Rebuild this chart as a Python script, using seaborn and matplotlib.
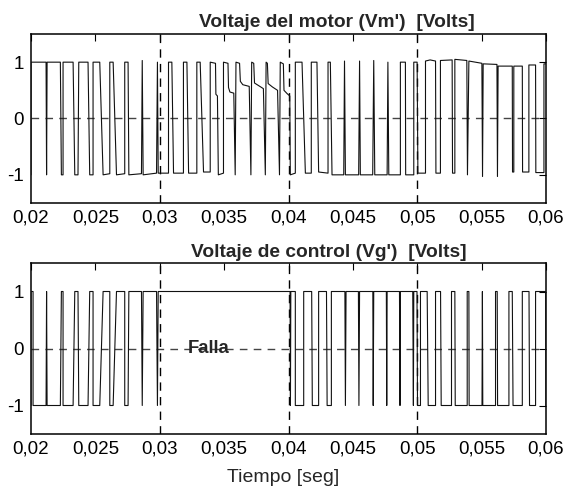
import matplotlib
matplotlib.use("Agg")
import matplotlib.pyplot as plt
import pandas as pd
import seaborn as sns

sns.set_theme(style="white")
plt.rcParams['font.family'] = ['Liberation Sans', 'DejaVu Sans']

# Motor voltage Vm' : waveform vertices, time in ms and level in per-unit volts
vm_t_ms = [20.00, 20.00, 21.17, 21.21, 21.25, 22.28, 22.36, 22.49, 22.49, 23.27,
           23.40, 23.65, 23.71, 24.43, 24.56, 24.82, 24.82, 25.34, 25.60, 26.12,
           26.12, 26.38, 26.64, 27.28, 27.28, 27.54, 27.60, 28.58, 28.64, 28.71,
           29.75, 29.82, 29.88, 30.68, 30.68, 30.94, 31.07, 31.84, 31.84, 32.11,
           32.24, 32.88, 32.88, 33.14, 33.40, 33.92, 33.92, 34.33, 34.36, 34.48,
           34.55, 34.95, 34.95, 35.30, 35.34, 35.45, 35.75, 35.86, 35.92, 36.20,
           36.26, 36.45, 36.95, 37.08, 37.14, 37.30, 37.36, 37.70, 38.05, 38.20,
           38.26, 38.36, 38.42, 38.75, 39.15, 39.30, 39.36, 39.60, 39.65, 39.90,
           40.10, 40.14, 40.53, 40.53, 41.05, 41.31, 41.77, 41.77, 42.21, 42.34,
           43.07, 43.07, 43.25, 43.38, 44.29, 44.35, 44.42, 45.45, 45.52, 45.58,
           46.54, 46.62, 46.70, 47.66, 47.72, 47.79, 48.69, 48.69, 49.08, 49.10,
           49.73, 49.73, 49.99, 50.05, 50.64, 50.64, 51.00, 51.42, 51.45, 51.80,
           51.80, 52.71, 52.74, 52.92, 52.92, 53.85, 53.90, 54.01, 55.02, 55.07,
           55.12, 56.19, 56.23, 56.28, 57.38, 57.40, 57.50, 57.50, 58.16, 58.18,
           58.67, 58.67, 59.19, 59.21, 59.84, 59.84, 60.00]
vm_v = [-1.00, 1.00, 1.00, -1.00, 1.00, 1.00, -1.00, -1.00, 1.00, 1.00,
        -1.00, -1.00, 1.00, 1.00, -1.00, -1.00, 1.00, 1.00, -1.00, -0.98,
        1.00, 1.00, -1.00, -0.98, 1.00, 1.00, -1.00, -0.98, 1.03, -1.00,
        -0.97, 1.00, -0.97, -0.97, 1.00, 1.00, -0.97, -0.97, 1.00, 1.00,
        -0.97, -0.97, 1.00, 1.00, -0.95, -0.95, 1.00, 0.98, 0.43, 0.40,
        -1.00, -0.97, 1.00, 0.98, 0.55, 0.47, 0.45, -1.00, 1.00, 0.98,
        0.66, 0.60, 0.57, -1.00, 1.00, 0.98, 0.63, 0.58, 0.53, -1.00,
        1.00, 0.98, 0.62, 0.56, 0.50, -1.00, 1.00, 0.97, 0.50, 0.44,
        0.40, -1.00, -0.97, 1.00, 1.00, -0.97, -0.97, 1.00, 1.00, -0.95,
        -0.97, 1.00, 1.00, -1.00, -1.00, 1.02, -1.00, -1.00, 1.02, -1.00,
        -1.00, 1.03, -1.00, -1.00, 1.00, -1.00, -1.00, 1.00, 1.00, -1.00,
        -1.00, 1.00, 1.00, -0.97, -0.97, 1.02, 1.04, 1.02, -0.97, -0.97,
        1.03, 1.04, -0.97, -0.97, 1.05, 1.03, -1.00, 1.02, 0.98, -1.03,
        0.97, 0.96, -1.03, 0.93, 0.93, -0.95, -0.95, 0.93, 0.93, -0.95,
        -0.95, 0.95, 0.95, -0.96, -0.96, 0.97, 0.97]

# Control voltage Vg' : waveform vertices (stuck high during the fault)
vg_t_ms = [20.00, 20.00, 20.16, 20.16, 21.17, 21.21, 21.25, 22.28, 22.36, 22.49,
           22.49, 23.27, 23.40, 23.65, 23.71, 24.43, 24.56, 24.82, 24.82, 25.34,
           25.60, 26.12, 26.12, 26.38, 26.64, 27.28, 27.28, 27.54, 27.60, 28.58,
           28.64, 28.71, 29.75, 29.82, 29.88, 40.12, 40.15, 40.18, 40.53, 40.53,
           41.18, 41.18, 41.80, 41.85, 42.34, 42.34, 42.95, 43.00, 43.33, 43.33,
           44.38, 44.42, 44.47, 45.43, 45.47, 45.52, 46.55, 46.58, 46.62, 47.60,
           47.63, 47.66, 48.62, 48.66, 48.69, 49.65, 49.70, 49.73, 49.98, 50.02,
           50.25, 50.25, 50.77, 50.85, 51.42, 51.42, 51.81, 51.86, 52.66, 52.66,
           52.92, 52.95, 53.88, 53.88, 54.01, 54.03, 55.03, 55.06, 55.09, 56.08,
           56.08, 56.21, 56.24, 57.12, 57.12, 57.38, 57.44, 58.16, 58.16, 58.68,
           58.72, 59.19, 59.19, 59.97, 59.99, 60.00]
vg_v = [-1, 1, 1, -1, -1, 1, -1, -1, 1, 1,
        -1, -1, 1, 1, -1, -1, 1, 1, -1, -1,
        1, 1, -1, -1, 1, 1, -1, -1, 1, 1,
        -1, 1, 1, -1, 1, 1, -1, 1, 1, -1,
        -1, 1, 1, -1, -1, 1, 1, -1, -1, 1,
        1, -1, 1, 1, -1, 1, 1, -1, 1, 1,
        -1, 1, 1, -1, 1, 1, -1, 1, 1, -1,
        -1, 1, 1, -1, -1, 1, 1, -1, -1, 1,
        1, -1, -1, 1, 1, -1, -1, 1, -1, -1,
        1, 1, -1, -1, 1, 1, -1, -1, 1, 1,
        -1, -1, 1, 1, -1, -1]

x_ticks = [0.02, 0.025, 0.03, 0.035, 0.04, 0.045, 0.05, 0.055, 0.06]
x_tick_labels = ["0,02", "0,025", "0,03", "0,035", "0,04", "0,045", "0,05", "0,055", "0,06"]
y_ticks = [-1, 0, 1]
y_tick_labels = ["-1", "0", "1"]
grid_x = [0.03, 0.04, 0.05]

top_title = "Voltaje del motor (Vm')  [Volts]"
bottom_title = "Voltaje de control (Vg')  [Volts]"
x_label = "Tiempo [seg]"
fault_label = "Falla"
fault_time = 0.0338

vm = pd.DataFrame({"t": [x / 1000 for x in vm_t_ms], "v": vm_v})
vg = pd.DataFrame({"t": [x / 1000 for x in vg_t_ms], "v": vg_v})

W, H = 566, 488
fig = plt.figure(figsize=(W / 100, H / 100), dpi=100)
ax1 = fig.add_axes([31 / W, 1 - 203 / H, 515 / W, 169 / H])
ax2 = fig.add_axes([31 / W, 1 - 434 / H, 515 / W, 171 / H])

for ax, df in ((ax1, vm), (ax2, vg)):
    for gx in grid_x:
        ax.axvline(gx, color="black", lw=1.0, dashes=(6, 4.5), zorder=1)
    ax.axhline(0, color="#444444", lw=1.0, dashes=(5.5, 4.5), zorder=1)
    sns.lineplot(data=df, x="t", y="v", ax=ax, sort=False, estimator=None,
                 color="#111111", lw=0.8, zorder=3)
    ax.set_xlim(0.02, 0.06)
    ax.set_ylim(-1.5, 1.5)
    ax.set_xticks(x_ticks)
    ax.set_xticklabels(x_tick_labels)
    ax.set_yticks(y_ticks)
    ax.set_yticklabels(y_tick_labels)
    ax.tick_params(direction="in", length=5, width=0.8, top=True, right=True,
                   labelsize=13.5, pad=5, color="black", labelcolor="black")
    for s in ax.spines.values():
        s.set_color("black")
        s.set_linewidth(1.1)
    ax.set_xlabel("")
    ax.set_ylabel("")

fig.text(337 / W, 1 - 27 / H, top_title, ha="center", va="baseline",
         fontsize=13.8, fontweight="bold")
fig.text(329 / W, 1 - 257 / H, bottom_title, ha="center", va="baseline",
         fontsize=13.8, fontweight="bold")
fig.text(283 / W, 1 - 478 / H, x_label, ha="center", va="center", fontsize=14)
ax2.text(fault_time, 0, fault_label, ha="center", va="center", fontsize=13.3,
         fontweight="bold", zorder=4)

fig.savefig("out.png", dpi=100, facecolor="white")
